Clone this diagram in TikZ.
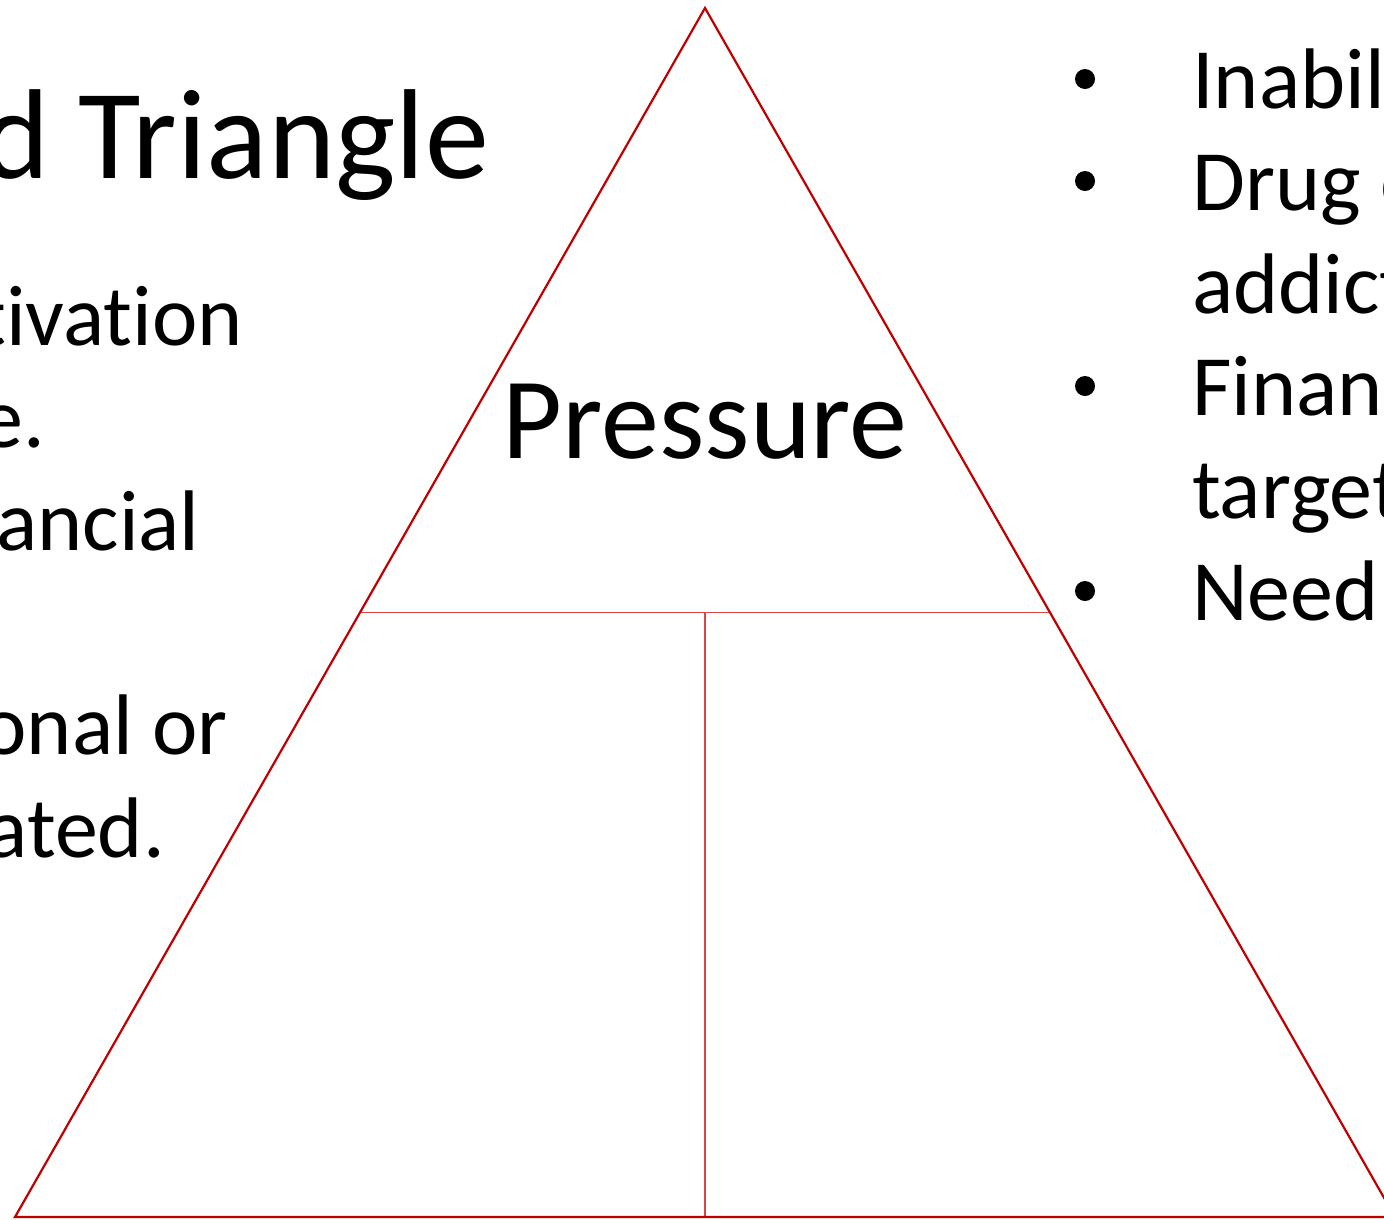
\documentclass[tikz,border=0pt]{standalone}
\usepackage{fontspec}
\setmainfont[Ligatures=NoCommon]{Carlito}
\usetikzlibrary{calc}
\definecolor{edgered}{RGB}{192,0,0}
\definecolor{linered}{RGB}{214,70,70}
\begin{document}
\begin{tikzpicture}[x=1pt, y=-1pt, edge/.style={draw=edgered, line width=2.2pt, line join=miter}, divider/.style={draw=linered, line width=1.4pt}, bodytext/.style={inner sep=0pt, font=\fontsize{86}{102}\selectfont}, bullet/.style={circle, fill=black, minimum size=20pt, inner sep=0pt}]
       \useasboundingbox (0,0) rectangle (1384,1219);
       \coordinate (top) at (705,8);
       \coordinate (left) at (15,1217);
       \coordinate (right) at (1395,1217);
       \coordinate (l) at ($(top)!0.5!(left)$);
       \coordinate (r) at ($(top)!0.5!(right)$);
       \coordinate (m) at ($(l)!0.5!(r)$);
       \coordinate (b) at ($(left)!0.5!(right)$);

       \draw[divider] (l) -- (r);
       \draw[divider] (m) -- (b);
       \draw[edge] (top) -- (left) -- (right) -- cycle;

       \node[inner sep=0pt, anchor=base east, font=\fontsize{128}{150}\selectfont] (title) at (489,178) {d Triangle};
       \node[inner sep=0pt, anchor=base, font=\fontsize{116}{140}\selectfont] (pressure) at (705,458) {Pressure};

       \foreach \x/\y/\t [count=\i] in {243/345/tivation, 45/447/e., 200/550/ancial, 228/754/onal or, 165/857/ated.}{\node[bodytext, anchor=base east] (left\i) at (\x,\y) {\t}; }
       \foreach \y/\t [count=\i] in {108/Inabil, 210/Drug o, 313/addict, 415/Financ, 518/target, 620/Need}{\node[bodytext, anchor=base west] (right\i) at (1192,\y) {\t}; }
       \foreach \p in {1,2,4,6}{\node[bullet] (dot\p) at ($(right\p.base west)+(-107,-29)$) {}; }
     \end{tikzpicture}
\end{document}
